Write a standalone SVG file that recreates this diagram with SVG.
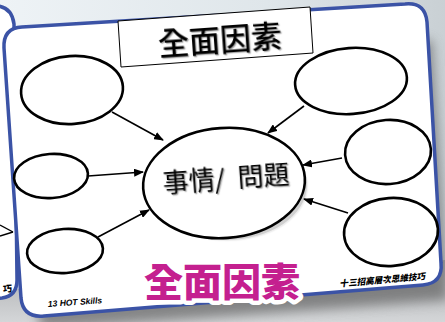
<svg xmlns="http://www.w3.org/2000/svg" width="445" height="322" viewBox="0 0 445 322">
<defs>
<linearGradient id="bg" x1="0" y1="0" x2="1" y2="0">
<stop offset="0" stop-color="#eef3f6"/>
<stop offset="0.6" stop-color="#dfe6ea"/>
<stop offset="1" stop-color="#c9d0d4"/>
</linearGradient>
<linearGradient id="bgb" x1="0" y1="0" x2="0" y2="1">
<stop offset="0" stop-color="#9a9c9e"/>
<stop offset="1" stop-color="#d4d6d8"/>
</linearGradient>
<filter id="blur" x="-10%" y="-10%" width="120%" height="130%"><feGaussianBlur stdDeviation="6"/></filter>
<filter id="ts" x="-10%" y="-10%" width="120%" height="130%"><feDropShadow dx="1.2" dy="1.2" stdDeviation="0.6" flood-color="#000" flood-opacity="0.35"/></filter>
<marker id="ah" markerUnits="userSpaceOnUse" markerWidth="10" markerHeight="8" refX="9" refY="4" orient="auto">
<path d="M0,0 L10,4 L0,8 Z" fill="#000"/>
</marker>
<style>
.bubble{fill:#fff;stroke:#000;stroke-width:2.6}
.conn line{stroke:#000;stroke-width:1.6;marker-end:url(#ah)}
.cjk{font-family:"Noto Sans CJK TC","Noto Sans CJK SC",sans-serif}
.en{font-family:"Liberation Sans",Arial,sans-serif}
.card{fill:#fff;stroke:#3b53a6;stroke-width:3.5}
</style>
</defs>

<!-- background -->
<rect width="445" height="322" fill="url(#bg)"/>
<rect y="240" width="445" height="82" fill="url(#bgb)"/>
<path d="M0,0 L445,0 L445,260 L0,290 Z" fill="url(#bg)"/>

<!-- card behind (left) -->
<g id="card-behind">
<path class="card" d="M-40,6 L-2,6 Q12,8 14,24 L17,280 Q17,296 2,298 L-40,302 Z"/>
<line x1="0" y1="225" x2="13" y2="232" stroke="#000" stroke-width="1.4"/>
<line x1="0" y1="236" x2="13" y2="232" stroke="#000" stroke-width="1.4"/>
<text class="cjk" x="12" y="292" font-size="9" font-weight="900" text-anchor="end" transform="rotate(-4 6 288)">巧</text>
</g>

<!-- shadow of main card -->
<path d="M12,60 L432,40 L448,300 L40,330 Z" fill="#555" opacity="0.6" filter="url(#blur)"/>

<!-- main card -->
<g id="card-main">
<path class="card" d="M4,48 Q3,28 22,27 L405,4 Q425,2 427,22 L441,263 Q443,283 423,285 L44,316 Q23,318 21,298 Z"/>
</g>

<!-- title box -->
<g id="title">
<polygon points="118,21 310,7 313,53 121,67" fill="#fff" stroke="#000" stroke-width="1"/>
<text class="cjk" x="220" y="51" font-size="31" font-weight="500" text-anchor="middle" transform="rotate(-4 219 40)" filter="url(#ts)">全面因素</text>
</g>

<!-- connectors -->
<g id="connectors" class="conn">
<line x1="112" y1="112" x2="163" y2="140"/>
<line x1="88" y1="176" x2="143" y2="172"/>
<line x1="98" y1="237" x2="149" y2="210"/>
<line x1="304" y1="106" x2="268" y2="133"/>
<line x1="342" y1="158" x2="303" y2="165"/>
<line x1="348" y1="213" x2="304" y2="199"/>
</g>

<!-- nodes -->
<g id="node-center">
<ellipse cx="226" cy="185" rx="81" ry="55" fill="#000" opacity="0.18" filter="url(#ts)"/>
<ellipse class="bubble" cx="224" cy="183" rx="81" ry="55" stroke-width="3" transform="rotate(-4 224 183)"/>
<text class="cjk" x="226" y="188" font-size="26" text-anchor="middle" transform="rotate(-4 226 178)" filter="url(#ts)">事情/ <tspan dx="7">問題</tspan></text>
</g>
<g id="node-tl"><ellipse class="bubble" cx="72" cy="90" rx="51" ry="34" transform="rotate(-4 72 90)"/></g>
<g id="node-ml"><ellipse class="bubble" cx="51" cy="176" rx="37" ry="22" transform="rotate(-4 51 176)"/></g>
<g id="node-bl"><ellipse class="bubble" cx="65" cy="251" rx="38" ry="22" transform="rotate(-4 65 251)"/></g>
<g id="node-tr"><ellipse class="bubble" cx="351" cy="81" rx="56" ry="33" transform="rotate(-4 351 81)"/></g>
<g id="node-mr"><ellipse class="bubble" cx="388" cy="152" rx="43" ry="32" transform="rotate(-4 388 152)"/></g>
<g id="node-br"><ellipse class="bubble" cx="391" cy="232" rx="47" ry="34" transform="rotate(-4 391 232)"/></g>

<!-- footer texts -->
<text class="en" x="75" y="305" font-size="8.5" font-weight="bold" font-style="italic" text-anchor="middle" transform="rotate(-4 75 302)">13 HOT Skills</text>
<text class="cjk" x="0" y="3" font-size="8.6" font-weight="900" text-anchor="middle" transform="translate(383 280) rotate(-5) skewX(-12)">十三招高層次思維技巧</text>

<!-- magenta overlay title -->
<g id="overlay">
<text class="cjk" x="222" y="296" font-size="39" font-weight="900" text-anchor="middle" fill="#c4208f" stroke="#fff" stroke-width="9" stroke-linejoin="round" paint-order="stroke">全面因素</text>
</g>
</svg>
